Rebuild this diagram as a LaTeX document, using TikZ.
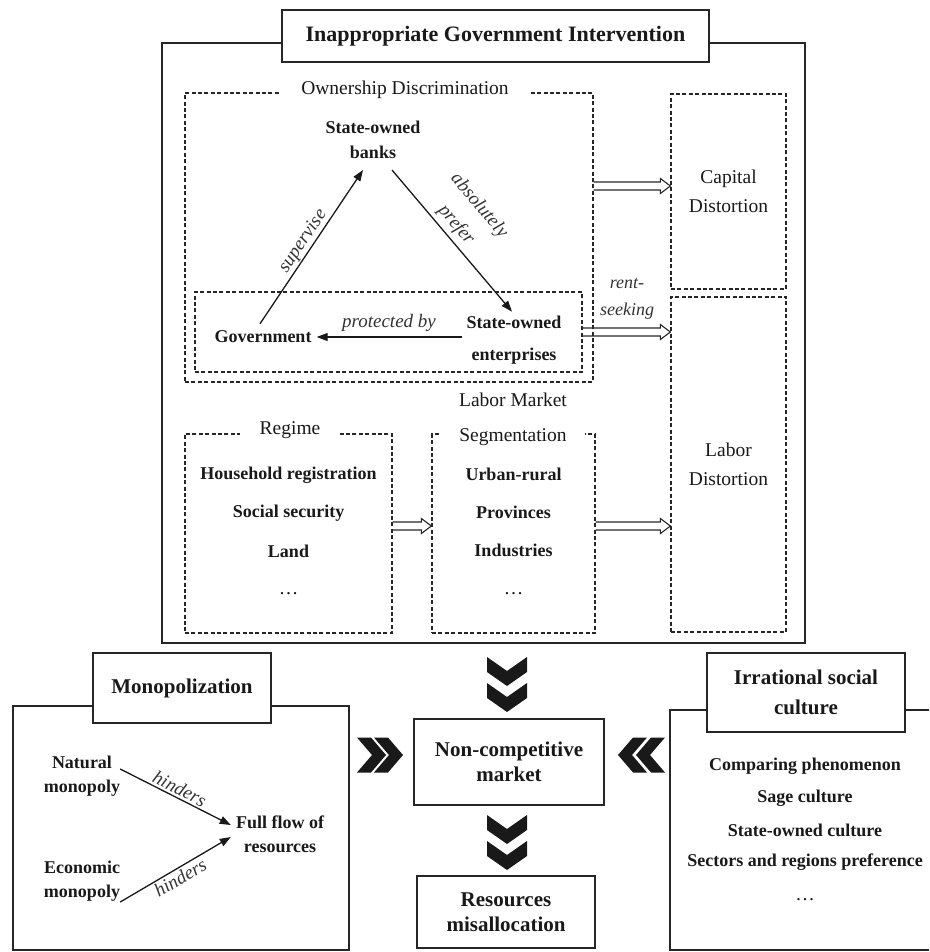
\documentclass[tikz,border=0pt]{standalone}
\usepackage{fontspec}
\setmainfont{Liberation Serif}
\usetikzlibrary{arrows.meta,calc}
\begin{document}
\begin{tikzpicture}[x=1pt,y=-1pt,
  every node/.style={inner sep=0pt, align=center, text=black!90},
  sbox/.style={draw=black!85, line width=1.4pt, fill=white},
  obox/.style={draw=black!85, line width=1.4pt},
  dbox/.style={draw=black!85, line width=1.2pt, dash pattern=on 4pt off 2.4pt},
  ttl/.style={font=\fontsize{21}{25}\selectfont\bfseries},
  btxt/.style={font=\fontsize{18}{25}\selectfont\bfseries},
  rtxt/.style={font=\fontsize{19.5}{29}\selectfont},
  itxt/.style={font=\fontsize{19}{26}\selectfont\itshape, text=black!80},
  lbl/.style={rtxt, fill=white, inner xsep=20pt, inner ysep=3pt},
  arr/.style={draw=black!90, line width=1.3pt, -{Triangle[length=11pt,width=8pt]}},
  blockarr/.style={draw=black!85, line width=1.1pt, to path={let \p1=(\tikztostart), \p2=(\tikztotarget) in (\x1,\y1+4pt) -- (\x2-10pt,\y1+4pt) -- (\x2-10pt,\y1+7.5pt) -- (\x2,\y1) -- (\x2-10pt,\y1-7.5pt) -- (\x2-10pt,\y1-4pt) -- (\x1,\y1-4pt)}},
  chevD/.pic={\fill[black!90] (-20,0) -- (0,14) -- (20,0) -- (20,15) -- (0,29) -- (-20,15) -- cycle;},
  chevR/.pic={\fill[black!90] (0,-17.5) -- (15,0) -- (0,17.5) -- (14,17.5) -- (29,0) -- (14,-17.5) -- cycle;},
  chevL/.pic={\fill[black!90] (0,-17.5) -- (-15,0) -- (0,17.5) -- (-14,17.5) -- (-29,0) -- (-14,-17.5) -- cycle;},
]
\useasboundingbox (0,0) rectangle (929,952);
\clip (0,0) rectangle (929,952);

% ---------- top block ----------
\node[obox, minimum width=643pt, minimum height=600pt] (igi) at (483.5,343) {};
\node[sbox, font=\fontsize{22}{30}\selectfont\bfseries, minimum width=427pt, minimum height=52pt] (igit) at (495.5,36) {Inappropriate Government Intervention};

\node[dbox, minimum width=408pt, minimum height=289pt] (own) at (389,237.5) {};
\node[lbl] (ownl) at (405,90) {Ownership Discrimination};
\node[dbox, minimum width=387pt, minimum height=80pt] (inn) at (388.5,332) {};

\node[btxt] (banks) at (373,140) {State-owned\\banks};
\node[btxt] (gov) at (263,337) {Government};
\node[btxt, font=\fontsize{18}{32}\selectfont\bfseries] (soe) at (514,340) {State-owned\\enterprises};

\draw[arr] ([xshift=-3pt,yshift=7pt]gov.north) -- node[itxt, sloped, pos=0.5, above=1pt] {supervise} ([xshift=-10pt,yshift=-11pt]banks.south);
\draw[arr] ([xshift=19pt,yshift=-11pt]banks.south) -- node[itxt, font=\fontsize{19}{30}\selectfont\itshape, sloped, pos=0.45, above=4pt] {absolutely\\prefer} ([xshift=-2pt,yshift=4pt]soe.north);
\coordinate (pstart) at (soe.west |- gov.east);
\draw[arr, shorten <=4pt, shorten >=5pt] (pstart) -- node[itxt, above=5pt] {protected by} (gov.east);

\node[dbox, rtxt, minimum width=115pt, minimum height=195pt] (cap) at (728.5,191.5) {Capital\\Distortion};
\node[dbox, rtxt, minimum width=115pt, minimum height=335pt] (lab) at (728.5,464.5) {Labor\\Distortion};

\coordinate (y186) at (0,186);
\draw[blockarr] (own.east |- y186) to (cap.west |- y186);
\draw[blockarr] (inn.east) to (inn.east -| lab.west);
\node[itxt, font=\fontsize{18}{27}\selectfont\itshape] (rent) at (627,299) {rent-\\seeking};

\node[dbox, minimum width=207pt, minimum height=199pt] (reg) at (288.5,533.5) {};
\node[lbl] (regl) at (290,430) {Regime};
\node[dbox, minimum width=163pt, minimum height=199pt] (lms) at (513.5,533.5) {};
\node[lbl, font=\fontsize{19.5}{35}\selectfont, inner xsep=18pt] (lmsl) at (513,419) {Labor Market\\Segmentation};

\node[btxt] (r1) at (288.5,475) {Household registration};
\node[btxt] (r2) at (288.5,513) {Social security};
\node[btxt] (r3) at (288.5,551) {Land};
\node[rtxt] (r4) at (288.5,594) {\dots};
\node[btxt] (m1) at (513.5,474) {Urban-rural};
\node[btxt] (m2) at (513.5,512) {Provinces};
\node[btxt] (m3) at (513.5,550) {Industries};
\node[rtxt] (m4) at (513.5,594) {\dots};

\coordinate (y525) at (0,526);
\draw[blockarr] (reg.east |- y525) to (lms.west |- y525);
\draw[blockarr] (lms.east |- y525) to (lab.west |- y525);

% ---------- bottom block ----------
\node[obox, minimum width=336pt, minimum height=244pt] (mono) at (181,828) {};
\node[sbox, ttl, minimum width=178pt, minimum height=70pt] (monot) at (182,688) {Monopolization};
\node[btxt, font=\fontsize{18}{24}\selectfont\bfseries] (nat) at (82,776) {Natural\\monopoly};
\node[btxt, font=\fontsize{18}{24}\selectfont\bfseries] (eco) at (82,881) {Economic\\monopoly};
\node[btxt, font=\fontsize{18}{24}\selectfont\bfseries] (ff) at (280,834) {Full flow of\\resources};
\draw[arr] ([yshift=7pt]nat.east) -- node[itxt, sloped, midway, above=2pt] {hinders} ([xshift=-5pt,yshift=9pt]ff.west);
\draw[arr] ([yshift=-21pt]eco.east) -- node[itxt, sloped, midway, below=2pt] {hinders} ([xshift=-5pt,yshift=-3pt]ff.west);

\node[obox, minimum width=275pt, minimum height=240pt] (irr) at (807.5,830) {};
\node[sbox, font=\fontsize{21}{30}\selectfont\bfseries, minimum width=198pt, minimum height=79pt] (irrt) at (806,692.5) {Irrational social\\culture};
\node[btxt] (c1) at (805,766) {Comparing phenomenon};
\node[btxt] (c2) at (805,798) {Sage culture};
\node[btxt] (c3) at (805,830) {State-owned culture};
\node[btxt] (c4) at (805,862) {Sectors and regions preference};
\node[rtxt] (c5) at (805,900) {\dots};

\node[sbox, ttl, minimum width=190pt, minimum height=86pt] (ncm) at (509,762) {Non-competitive\\market};
\node[sbox, ttl, minimum width=178pt, minimum height=72pt] (res) at (506,912) {Resources\\misallocation};

\pic at (507,657) {chevD};
\pic at (507,683) {chevD};
\pic at (507,815) {chevD};
\pic at (507,841) {chevD};
\pic at (357,755) {chevR};
\pic at (374,755) {chevR};
\pic at (665,755) {chevL};
\pic at (647,755) {chevL};
\end{tikzpicture}
\end{document}
